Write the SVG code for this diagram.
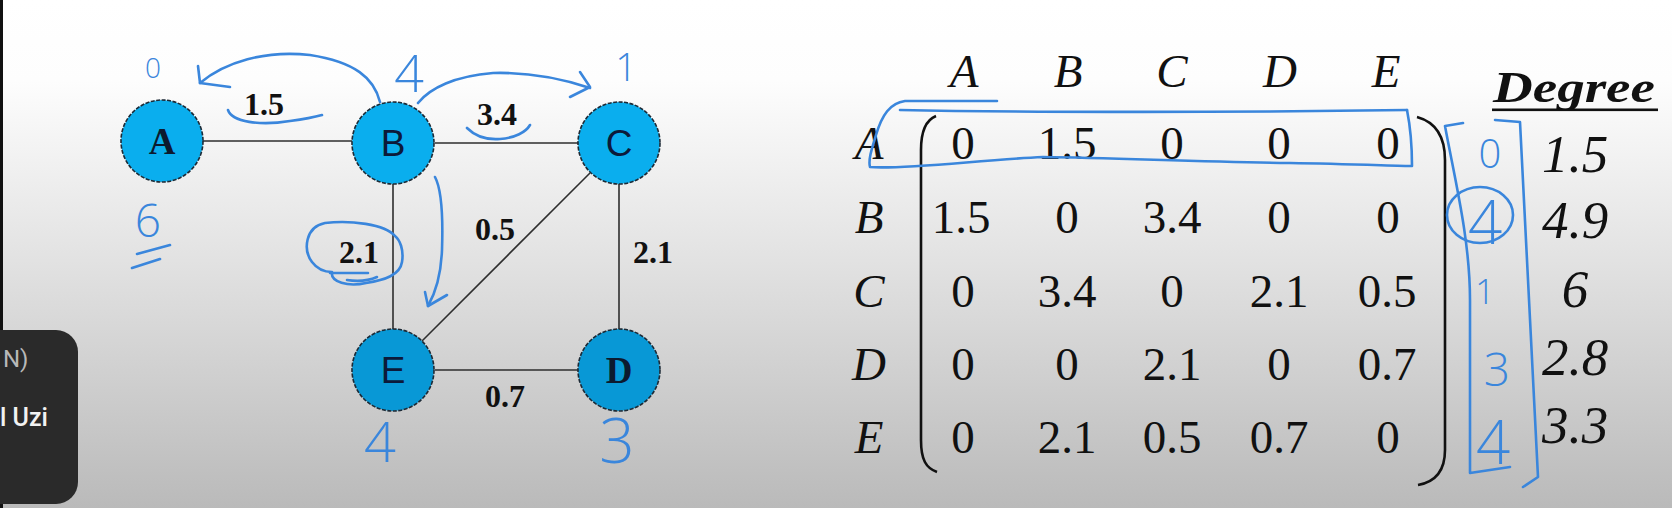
<svg xmlns="http://www.w3.org/2000/svg" width="1672" height="508" viewBox="0 0 1672 508">
<defs>
<linearGradient id="bg" x1="0" y1="0" x2="0" y2="1">
<stop offset="0" stop-color="#ffffff"/>
<stop offset="0.16" stop-color="#fdfdfd"/>
<stop offset="0.5" stop-color="#e3e3e3"/>
<stop offset="1" stop-color="#bababa"/>
</linearGradient>
<style>
.edge{stroke:#2e2e2e;stroke-width:1.6;fill:none}
.node{stroke:#1c2a36;stroke-width:1.6;stroke-dasharray:4 1.5}
.n1{fill:#0aaeee}
.n2{fill:#0898d6}
.lblSerif{font-family:"Liberation Serif",serif;font-weight:bold;font-size:37px;fill:#0c1a2e;text-anchor:middle}
.lblSans{font-family:"Liberation Sans",Arial,sans-serif;font-size:37px;fill:#0c1a3a;text-anchor:middle}
.w{font-family:"Liberation Serif",serif;font-weight:bold;font-size:32px;fill:#111;text-anchor:middle}
.m{font-family:"Liberation Serif",serif;font-size:47px;fill:#111;text-anchor:middle}
.mi{font-family:"Liberation Serif",serif;font-style:italic;font-size:47px;fill:#111;text-anchor:middle}
.deg{font-family:"Liberation Serif",serif;font-style:italic;font-size:53px;fill:#111;text-anchor:middle}
.ink{stroke:#3a86dc;stroke-width:2.6;fill:none;stroke-linecap:round;stroke-linejoin:round}
.hw{font-family:"Open Sans","DejaVu Sans",sans-serif;font-weight:300;fill:#3a86dc;text-anchor:middle}
.paren{stroke:#111;stroke-width:2.6;fill:none}
</style>
</defs>
<rect x="0" y="0" width="1672" height="508" fill="url(#bg)"/>

<g id="connectors">
<line class="edge" x1="203" y1="141" x2="352" y2="141"/>
<line class="edge" x1="435" y1="143" x2="578" y2="143"/>
<line class="edge" x1="393" y1="184" x2="393" y2="329"/>
<line class="edge" x1="619" y1="184" x2="619" y2="329"/>
<line class="edge" x1="435" y1="370" x2="578" y2="370"/>
<line class="edge" x1="590" y1="173" x2="422" y2="341"/>
<text class="w" x="264" y="115">1.5</text>
<text class="w" x="497" y="125">3.4</text>
<text class="w" x="359" y="263">2.1</text>
<text class="w" x="495" y="240">0.5</text>
<text class="w" x="653" y="263">2.1</text>
<text class="w" x="505" y="407">0.7</text>
</g>

<g id="node-A"><circle class="node n1" cx="162" cy="141" r="41"/><text class="lblSerif" x="162" y="154">A</text></g>
<g id="node-B"><circle class="node n1" cx="393" cy="143" r="41"/><text class="lblSans" x="393" y="156">B</text></g>
<g id="node-C"><circle class="node n1" cx="619" cy="143" r="41"/><text class="lblSans" x="619" y="156">C</text></g>
<g id="node-E"><circle class="node n2" cx="393" cy="370" r="41"/><text class="lblSans" x="393" y="383">E</text></g>
<g id="node-D"><circle class="node n2" cx="619" cy="370" r="41"/><text class="lblSerif" x="619" y="383">D</text></g>

<g id="matrix">
<text class="mi" x="964" y="87">A</text>
<text class="mi" x="1068" y="87">B</text>
<text class="mi" x="1172" y="87">C</text>
<text class="mi" x="1280" y="87">D</text>
<text class="mi" x="1386" y="87">E</text>
<text class="mi" x="869" y="159">A</text>
<text class="mi" x="869" y="233">B</text>
<text class="mi" x="869" y="307">C</text>
<text class="mi" x="869" y="380">D</text>
<text class="mi" x="869" y="453">E</text>
<path class="paren" d="M936,116 C926,120 921,130 921,150 L921,440 C921,460 926,468 937,472"/>
<path class="paren" d="M1417,117 C1435,122 1445,135 1445,160 L1445,450 C1445,472 1435,482 1418,485"/>
<g>
<text class="m" x="963" y="159">0</text><text class="m" x="1067" y="159">1.5</text><text class="m" x="1172" y="159">0</text><text class="m" x="1279" y="159">0</text><text class="m" x="1388" y="159">0</text>
<text class="m" x="961" y="233">1.5</text><text class="m" x="1067" y="233">0</text><text class="m" x="1172" y="233">3.4</text><text class="m" x="1279" y="233">0</text><text class="m" x="1388" y="233">0</text>
<text class="m" x="963" y="307">0</text><text class="m" x="1067" y="307">3.4</text><text class="m" x="1172" y="307">0</text><text class="m" x="1279" y="307">2.1</text><text class="m" x="1387" y="307">0.5</text>
<text class="m" x="963" y="380">0</text><text class="m" x="1067" y="380">0</text><text class="m" x="1172" y="380">2.1</text><text class="m" x="1279" y="380">0</text><text class="m" x="1387" y="380">0.7</text>
<text class="m" x="963" y="453">0</text><text class="m" x="1067" y="453">2.1</text><text class="m" x="1172" y="453">0.5</text><text class="m" x="1279" y="453">0.7</text><text class="m" x="1388" y="453">0</text>
</g>
</g>

<g id="degree">
<text x="1493" y="102" font-family="Liberation Serif, serif" font-weight="bold" font-style="italic" font-size="44" fill="#111" textLength="162" lengthAdjust="spacingAndGlyphs">Degree</text>
<rect x="1492" y="108.5" width="166" height="2.6" fill="#111"/>
<text class="deg" x="1575" y="172">1.5</text>
<text class="deg" x="1575" y="238">4.9</text>
<text class="deg" x="1575" y="307">6</text>
<text class="deg" x="1575" y="375">2.8</text>
<text class="deg" x="1575" y="443">3.3</text>
</g>

<g id="annotations">
<path class="ink" d="M380,102 C374,78 355,62 310,55 C265,50 225,62 200,83"/>
<path class="ink" d="M198,66 L200,83 L230,87"/>
<path class="ink" d="M228,110 C232,122 260,126 290,121 C305,119 315,117 322,115"/>
<path class="ink" d="M418,103 C430,88 455,76 493,73 C530,72 560,78 590,88"/>
<path class="ink" d="M580,72 L590,87 L570,97"/>
<path class="ink" d="M467,128 C475,136 487,140 500,139 C515,138 526,132 530,125"/>
<path class="ink" d="M435,177 C442,190 443,220 442,250 C441,275 436,292 428,306"/>
<path class="ink" d="M425,292 L428,306 L447,295"/>
<path class="ink" d="M395,236 C385,224 350,220 325,223 C305,227 303,250 312,262 C318,270 326,272 332,272 C330,282 348,287 366,283 C385,280 400,275 402,262 C404,250 400,240 395,236"/>
<path class="ink" d="M330,273 L368,273 M347,280 C360,282 370,280 377,277"/>
<path class="ink" d="M137,254 L170,245 M132,268 L160,259"/>
<path class="ink" d="M997,101 L905,101 C890,103 882,115 876,135 C872,148 868,160 870,167 C900,170 980,160 1043,157 C1120,158 1200,162 1290,163 C1350,164 1400,166 1412,166 C1412,150 1410,125 1407,110"/>
<path class="ink" d="M900,110 C1000,112 1200,113 1407,110"/>
<path class="ink" d="M1463,123 L1445,126 C1455,180 1470,240 1470,300 L1470,473 L1510,467"/>
<path class="ink" d="M1495,120 L1520,122 L1538,477 L1523,487"/>
<ellipse class="ink" cx="1480" cy="215" rx="33" ry="28"/>
<text class="hw" x="153" y="78" font-size="28">0</text>
<text class="hw" x="409" y="92" font-size="52">4</text>
<text class="hw" x="626" y="81" font-size="38">1</text>
<text class="hw" x="148" y="237" font-size="46">6</text>
<text class="hw" x="380" y="462" font-size="56">4</text>
<text class="hw" x="617" y="463" font-size="62">3</text>
<text class="hw" x="1490" y="168" font-size="40">0</text>
<text class="hw" x="1485" y="244" font-size="60">4</text>
<text class="hw" x="1485" y="304" font-size="34">1</text>
<text class="hw" x="1497" y="386" font-size="46">3</text>
<text class="hw" x="1493" y="464" font-size="60">4</text>
</g>

<g id="overlay">
<rect x="0" y="0" width="3" height="508" fill="#111"/>
<path d="M0,330 H56 A22,22 0 0 1 78,352 V482 A22,22 0 0 1 56,504 H0 Z" fill="#2a2a2a"/>
<text x="3" y="367" font-family="Roboto, sans-serif" font-size="24" fill="#b8b8b8">N)</text>
<text x="0" y="426" font-family="Roboto, sans-serif" font-weight="500" font-size="25" fill="#f2f2f2">l Uzi</text>
</g>
</svg>
